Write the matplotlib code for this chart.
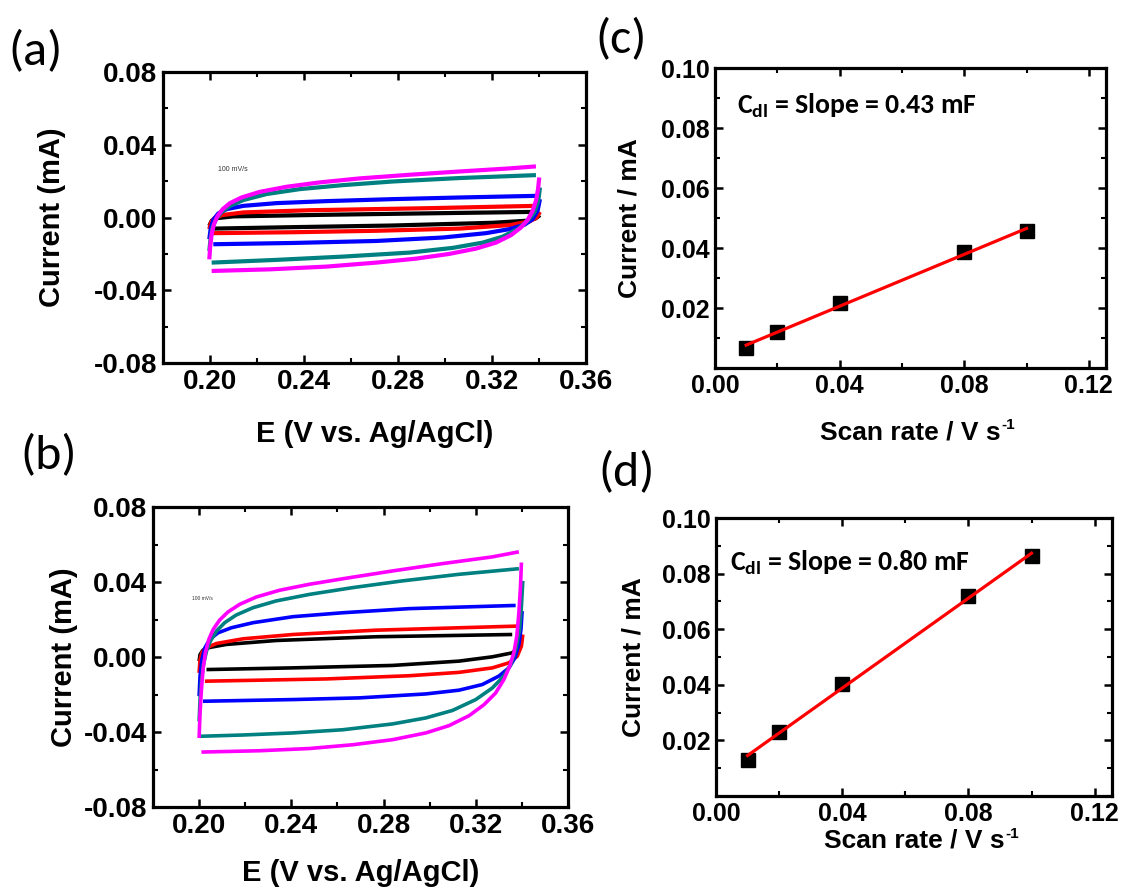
import numpy as np
import matplotlib
matplotlib.use('Agg')
import matplotlib.pyplot as plt
from matplotlib import font_manager
from matplotlib.ticker import MultipleLocator, FixedLocator

names = {f.name for f in font_manager.fontManager.ttflist}
ARIAL = 'Liberation Sans Narrow' if 'Liberation Sans Narrow' in names else 'Liberation Sans'
CALIBRI = 'Carlito' if 'Carlito' in names else 'Lato'

plt.rcParams['font.family'] = [ARIAL, 'DejaVu Sans']
plt.rcParams['font.weight'] = 'bold'
plt.rcParams['mathtext.fontset'] = 'custom'
plt.rcParams['mathtext.rm'] = ARIAL + ':bold'
plt.rcParams['mathtext.bf'] = CALIBRI + ':bold'
plt.rcParams['axes.unicode_minus'] = False

# ---------------- data ----------------
scan_labels = ['10 mV/s', '20 mV/s', '40 mV/s', '80 mV/s', '100 mV/s']
cv_colors = ['#000000', '#ff0000', '#0000ff', '#008080', '#ff00ff']

# Panel (a): forward (upper) and reverse (lower) branches, E in V, I in mA
a_black_up_E = [0.1997, 0.2007, 0.2028, 0.2099, 0.2495, 0.2991, 0.3387]
a_black_up_I = [-0.0046, -0.0018, -0.0004, 0.0006, 0.0015, 0.0024, 0.0031]
a_black_lo_E = [0.3404, 0.3384, 0.3345, 0.3203, 0.2778, 0.2354, 0.2014]
a_black_lo_I = [0.0013, -0.0006, -0.0018, -0.0029, -0.0044, -0.0053, -0.0061]

a_red_up_E = [0.1997, 0.2004, 0.2018, 0.2050, 0.2142, 0.2425, 0.2920, 0.3387]
a_red_up_I = [-0.0064, -0.0028, -0.0004, 0.0013, 0.0028, 0.0040, 0.0051, 0.0064]
a_red_lo_E = [0.3404, 0.3390, 0.3359, 0.3274, 0.3062, 0.2708, 0.2354, 0.2014]
a_red_lo_I = [0.0031, 0.0000, -0.0022, -0.0042, -0.0061, -0.0073, -0.0081, -0.0086]

a_blue_up_E = [0.1997, 0.2003, 0.2014, 0.2035, 0.2071, 0.2142, 0.2283, 0.2495, 0.2778, 0.3062, 0.3387]
a_blue_up_I = [-0.0119, -0.0061, -0.0013, 0.0022, 0.0046, 0.0064, 0.0079, 0.0090, 0.0101, 0.0110, 0.0119]
a_blue_lo_E = [0.3404, 0.3394, 0.3373, 0.3338, 0.3274, 0.3175, 0.2991, 0.2708, 0.2354, 0.2014]
a_blue_lo_I = [0.0101, 0.0037, -0.0009, -0.0040, -0.0064, -0.0086, -0.0110, -0.0129, -0.0140, -0.0147]

a_teal_up_E = [0.1997, 0.2003, 0.2011, 0.2025, 0.2050, 0.2085, 0.2142, 0.2241, 0.2382, 0.2566, 0.2778, 0.3062, 0.3387]
a_teal_up_I = [-0.0184, -0.0110, -0.0055, -0.0009, 0.0031, 0.0064, 0.0096, 0.0129, 0.0156, 0.0178, 0.0198, 0.0217, 0.0233]
a_teal_lo_E = [0.3404, 0.3397, 0.3380, 0.3352, 0.3309, 0.3246, 0.3161, 0.3033, 0.2849, 0.2566, 0.2283, 0.2007]
a_teal_lo_I = [0.0165, 0.0092, 0.0028, -0.0018, -0.0064, -0.0105, -0.0138, -0.0167, -0.0193, -0.0215, -0.0233, -0.0248]

a_mag_up_E = [0.1997, 0.2001, 0.2007, 0.2017, 0.2031, 0.2054, 0.2085, 0.2134, 0.2212, 0.2326,
              0.2467, 0.2637, 0.2849, 0.3062, 0.3274, 0.3387]
a_mag_up_I = [-0.0230, -0.0156, -0.0092, -0.0037, 0.0006, 0.0046, 0.0079, 0.0110, 0.0141, 0.0169,
              0.0193, 0.0215, 0.0235, 0.0253, 0.0270, 0.0281]
a_mag_lo_E = [0.3401, 0.3396, 0.3387, 0.3373, 0.3352, 0.3323, 0.3281, 0.3217, 0.3132, 0.3019,
              0.2878, 0.2708, 0.2495, 0.2255, 0.2007]
a_mag_lo_I = [0.0220, 0.0156, 0.0092, 0.0037, -0.0013, -0.0055, -0.0097, -0.0138, -0.0171, -0.0200,
              -0.0226, -0.0248, -0.0270, -0.0285, -0.0294]

# Panel (b)
b_black_up_E = [0.2000, 0.2004, 0.2017, 0.2046, 0.2118, 0.2334, 0.2767, 0.3358]
b_black_up_I = [-0.0022, 0.0013, 0.0037, 0.0051, 0.0067, 0.0088, 0.0108, 0.0120]
b_black_lo_E = [0.3394, 0.3384, 0.3358, 0.3272, 0.3127, 0.2839, 0.2407, 0.2032]
b_black_lo_I = [0.0102, 0.0049, 0.0022, 0.0001, -0.0022, -0.0045, -0.0058, -0.0067]

b_red_up_E = [0.2000, 0.2004, 0.2013, 0.2032, 0.2075, 0.2190, 0.2407, 0.2767, 0.3387]
b_red_up_I = [-0.0085, -0.0013, 0.0026, 0.0049, 0.0072, 0.0097, 0.0120, 0.0143, 0.0165]
b_red_lo_E = [0.3404, 0.3398, 0.3380, 0.3344, 0.3272, 0.3127, 0.2911, 0.2551, 0.2025]
b_red_lo_I = [0.0120, 0.0058, 0.0004, -0.0031, -0.0058, -0.0082, -0.0100, -0.0117, -0.0129]

b_blue_up_E = [0.2000, 0.2004, 0.2012, 0.2025, 0.2046, 0.2082, 0.2140, 0.2234, 0.2407, 0.2623, 0.2911, 0.3373]
b_blue_up_I = [-0.0209, -0.0102, -0.0013, 0.0049, 0.0094, 0.0129, 0.0156, 0.0183, 0.0215, 0.0236, 0.0258, 0.0275]
b_blue_lo_E = [0.3401, 0.3396, 0.3387, 0.3370, 0.3344, 0.3300, 0.3228, 0.3127, 0.2983, 0.2695, 0.2407, 0.2017]
b_blue_lo_I = [0.0245, 0.0147, 0.0067, -0.0004, -0.0058, -0.0102, -0.0147, -0.0177, -0.0197, -0.0218, -0.0227, -0.0236]

b_teal_up_E = [0.2000, 0.2004, 0.2010, 0.2019, 0.2032, 0.2049, 0.2075, 0.2111, 0.2161, 0.2234,
               0.2334, 0.2479, 0.2666, 0.2882, 0.3127, 0.3387]
b_teal_up_I = [-0.0343, -0.0227, -0.0129, -0.0040, 0.0031, 0.0085, 0.0138, 0.0183, 0.0224, 0.0263,
               0.0299, 0.0334, 0.0370, 0.0406, 0.0441, 0.0471]
b_teal_lo_E = [0.3404, 0.3398, 0.3390, 0.3375, 0.3355, 0.3322, 0.3272, 0.3200, 0.3099, 0.2983,
               0.2839, 0.2623, 0.2407, 0.2190, 0.2000]
b_teal_lo_I = [0.0406, 0.0272, 0.0147, 0.0049, -0.0031, -0.0102, -0.0165, -0.0227, -0.0285, -0.0325,
               -0.0357, -0.0388, -0.0405, -0.0416, -0.0423]

b_mag_up_E = [0.2000, 0.2004, 0.2010, 0.2017, 0.2027, 0.2042, 0.2061, 0.2089, 0.2125, 0.2176,
              0.2248, 0.2349, 0.2479, 0.2637, 0.2839, 0.3055, 0.3272, 0.3387]
b_mag_up_I = [-0.0432, -0.0299, -0.0174, -0.0067, 0.0022, 0.0094, 0.0147, 0.0197, 0.0240, 0.0281,
              0.0320, 0.0356, 0.0388, 0.0420, 0.0459, 0.0498, 0.0534, 0.0561]
b_mag_lo_E = [0.3398, 0.3394, 0.3387, 0.3378, 0.3365, 0.3347, 0.3322, 0.3286, 0.3236, 0.3171,
              0.3084, 0.2983, 0.2839, 0.2666, 0.2479, 0.2262, 0.2010]
b_mag_lo_I = [0.0504, 0.0379, 0.0236, 0.0111, 0.0022, -0.0049, -0.0120, -0.0192, -0.0254, -0.0313,
              -0.0366, -0.0405, -0.0441, -0.0468, -0.0488, -0.0500, -0.0507]

# Panels (c), (d): capacitive current vs scan rate
scan_rate = [0.01, 0.02, 0.04, 0.08, 0.10]
c_current = [0.0067, 0.0120, 0.0217, 0.0386, 0.0456]
d_current = [0.0129, 0.0232, 0.0403, 0.0719, 0.0862]
c_text = 'C$_{\\mathbf{dl}}$ = Slope = 0.43 mF'
d_text = 'C$_{\\mathbf{dl}}$ = Slope = 0.80 mF'

cv_xticks = [0.20, 0.24, 0.28, 0.32, 0.36]
cv_yticks = [-0.08, -0.04, 0.00, 0.04, 0.08]
lin_xticks = [0.00, 0.04, 0.08, 0.12]
lin_yticks = [0.02, 0.04, 0.06, 0.08, 0.10]

# ---------------- figure ----------------
fig = plt.figure(figsize=(11.23, 8.92), dpi=100)
W, H = 1123, 892

def add_ax(l, t, r, b):
    return fig.add_axes([l / W, 1 - b / H, (r - l) / W, (b - t) / H])

def style(ax, tick_size):
    for s in ax.spines.values():
        s.set_linewidth(2.3)
    ax.tick_params(which='both', direction='in', top=True, right=True,
                   labelsize=tick_size, pad=4)
    ax.tick_params(which='major', length=6, width=1.8)
    ax.tick_params(which='minor', length=3.5, width=1.5)
    for lab in ax.get_xticklabels() + ax.get_yticklabels():
        lab.set_fontweight('bold')

def fmt2(v):
    return '%.2f' % v

axA = add_ax(163, 72, 586, 363)
axB = add_ax(153, 507, 568, 807)
axC = add_ax(715, 68, 1106, 368)
axD = add_ax(716, 518, 1112, 796)

a_curves = [
    (a_black_up_E, a_black_up_I, a_black_lo_E, a_black_lo_I),
    (a_red_up_E, a_red_up_I, a_red_lo_E, a_red_lo_I),
    (a_blue_up_E, a_blue_up_I, a_blue_lo_E, a_blue_lo_I),
    (a_teal_up_E, a_teal_up_I, a_teal_lo_E, a_teal_lo_I),
    (a_mag_up_E, a_mag_up_I, a_mag_lo_E, a_mag_lo_I),
]
b_curves = [
    (b_black_up_E, b_black_up_I, b_black_lo_E, b_black_lo_I),
    (b_red_up_E, b_red_up_I, b_red_lo_E, b_red_lo_I),
    (b_blue_up_E, b_blue_up_I, b_blue_lo_E, b_blue_lo_I),
    (b_teal_up_E, b_teal_up_I, b_teal_lo_E, b_teal_lo_I),
    (b_mag_up_E, b_mag_up_I, b_mag_lo_E, b_mag_lo_I),
]

for ax, curves, lw in [(axA, a_curves, 3.0), (axB, b_curves, 2.6)]:
    for (ue, ui, le, li), col in zip(curves, cv_colors):
        ax.plot(ue, ui, color=col, lw=lw, solid_joinstyle='round', solid_capstyle='butt')
        ax.plot(le, li, color=col, lw=lw, solid_joinstyle='round', solid_capstyle='butt')
    ax.set_xlim(0.18, 0.36)
    ax.set_ylim(-0.08, 0.08)
    ax.xaxis.set_major_locator(FixedLocator(cv_xticks))
    ax.yaxis.set_major_locator(FixedLocator(cv_yticks))
    ax.xaxis.set_minor_locator(MultipleLocator(0.02))
    ax.yaxis.set_minor_locator(MultipleLocator(0.02))
    ax.set_xticklabels([fmt2(v) for v in cv_xticks])
    ax.set_yticklabels([fmt2(v) for v in cv_yticks])
    style(ax, 20)
    ax.set_xlabel('E (V vs. Ag/AgCl)', fontsize=21, fontweight='bold')
    ax.set_ylabel('Current (mA)', fontsize=21, fontweight='bold')

axA.xaxis.set_label_coords(0.5, -0.196)
axA.yaxis.set_label_coords(-0.229, 0.5)
axB.xaxis.set_label_coords(0.5, -0.172)
axB.yaxis.set_label_coords(-0.18, 0.5)

# tiny leftover legend text
axA.text(0.2034, 0.0266, scan_labels[-1], fontsize=5, color='#333333',
         fontweight='normal', va='center', ha='left')
axB.text(0.1968, 0.0313, scan_labels[-1], fontsize=3.5, color='#333333',
         fontweight='normal', va='center', ha='left')

for ax, y, txt, tpos in [(axC, c_current, c_text, (737, 113)),
                         (axD, d_current, d_text, (730, 570))]:
    slope, icpt = np.polyfit(scan_rate, y, 1)
    xs = np.array([scan_rate[0], scan_rate[-1]])
    ax.plot(scan_rate, y, 's', color='black', ms=10.5, zorder=2)
    ax.plot(xs, slope * xs + icpt, color='#ff0000', lw=2.3, zorder=3)
    ax.set_xlim(0.0, 0.1255)
    ax.set_ylim(0.0, 0.10)
    ax.xaxis.set_major_locator(FixedLocator(lin_xticks))
    ax.yaxis.set_major_locator(FixedLocator(lin_yticks))
    ax.xaxis.set_minor_locator(MultipleLocator(0.02))
    ax.yaxis.set_minor_locator(MultipleLocator(0.01))
    ax.set_xticklabels([fmt2(v) for v in lin_xticks])
    ax.set_yticklabels([fmt2(v) for v in lin_yticks])
    style(ax, 18)
    ax.set_xlabel('Scan rate / V s', fontsize=19, fontweight='bold')
    ax.set_ylabel('Current / mA', fontsize=19, fontweight='bold')
    ax.annotate('-1', xy=(1.0, 1.0), xycoords=ax.xaxis.label, xytext=(0.5, 1.5),
                textcoords='offset points', fontsize=11, fontweight='bold',
                ha='left', va='top')
    fig.text(tpos[0] / W, 1 - tpos[1] / H, txt, fontsize=20, fontweight='bold',
             family=[CALIBRI, 'DejaVu Sans'], va='baseline', ha='left')

axC.xaxis.set_label_coords(0.5, -0.175)
axC.yaxis.set_label_coords(-0.187, 0.5)
axD.xaxis.set_label_coords(0.5, -0.118)
axD.yaxis.set_label_coords(-0.177, 0.5)

for lab, x, y in [('(a)', 8, 52), ('(b)', 20, 456), ('(c)', 595, 40), ('(d)', 598, 473)]:
    fig.text(x / W, 1 - y / H, lab, fontsize=36, fontweight='normal',
             family=[CALIBRI, 'DejaVu Sans'], va='center', ha='left')

fig.savefig('out.png', dpi=100)
